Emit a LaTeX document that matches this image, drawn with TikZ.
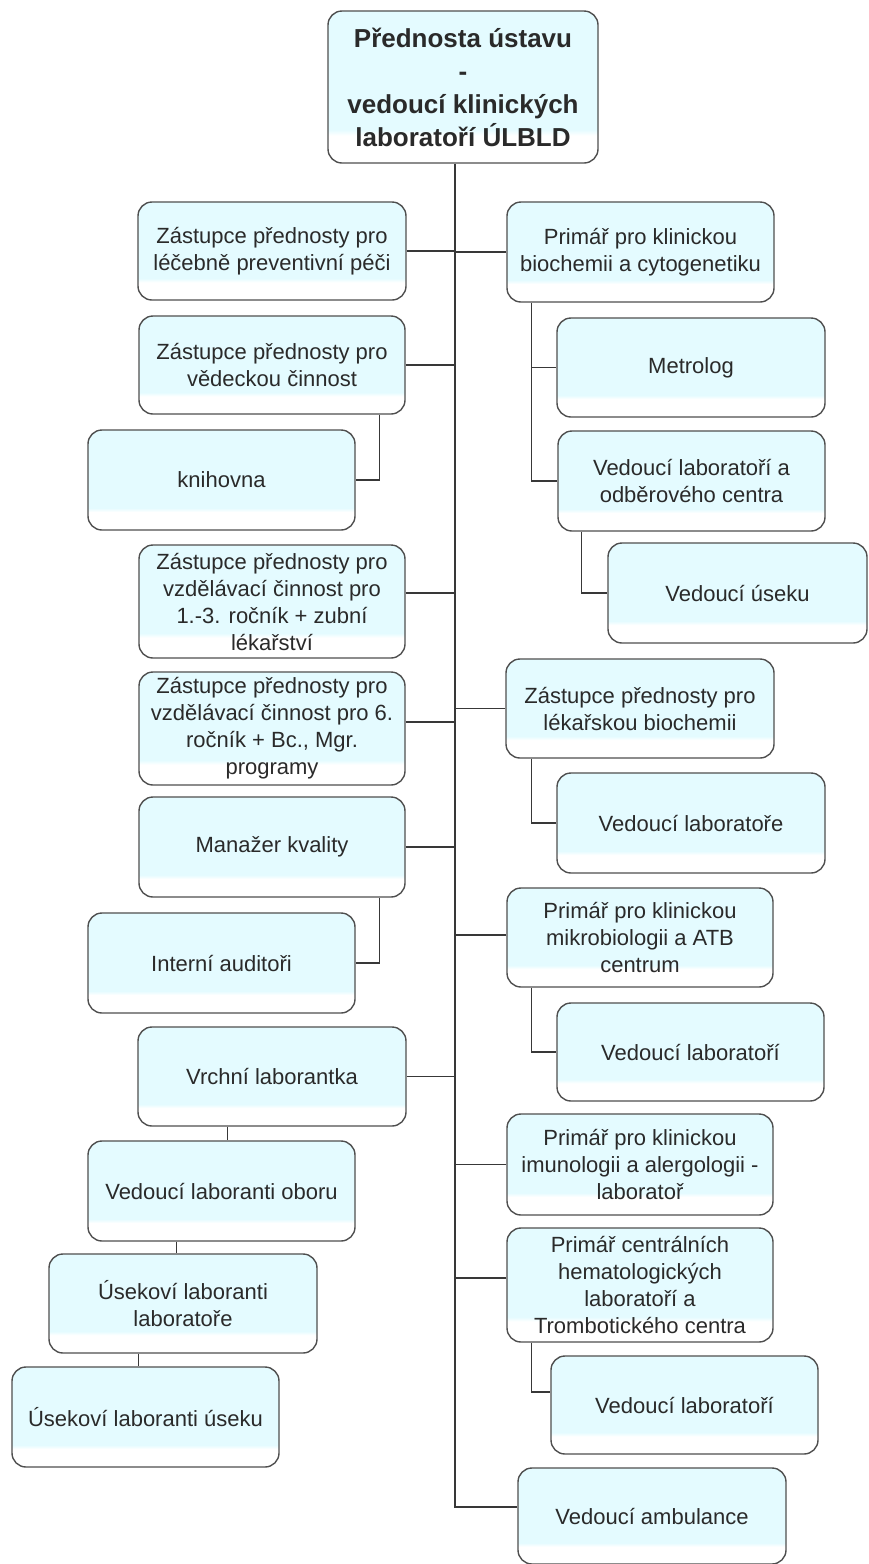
\documentclass[tikz,border=0pt]{standalone}
\usepackage{fontspec}
\setmainfont{Liberation Sans}
\definecolor{lc}{HTML}{E4FBFF}
\definecolor{bd}{HTML}{4F4F4F}
\definecolor{txt}{HTML}{2A2A2A}
\definecolor{ln}{HTML}{383838}
\pgfdeclareverticalshading{boxshade}{100bp}{color(0bp)=(white); color(25bp)=(white); color(34bp)=(white); color(36bp)=(lc); color(100bp)=(lc)}
\tikzset{
  box/.style={draw=bd, line width=1.4pt, rounded corners=14pt, shading=boxshade,
    align=center, inner sep=2pt, text=txt, font=\fontsize{22}{27}\selectfont},
  conn/.style={draw=ln, line width=1.3pt}
}
\begin{document}
\begin{tikzpicture}[x=1pt,y=-1pt]
\useasboundingbox (0,0) rectangle (869,1564);
% root
\node[box, minimum width=270pt, minimum height=152pt, font=\fontsize{26}{33}\selectfont\bfseries] (root) at (463,87) {Přednosta ústavu\\-\\vedoucí klinických\\laboratoří ÚLBLD};
% left column
\node[box, minimum width=268pt, minimum height=98pt] (L1) at (272,251) {Zástupce přednosty pro\\léčebně preventivní péči};
\node[box, minimum width=266pt, minimum height=98pt] (L2) at (272,365) {Zástupce přednosty pro\\vědeckou činnost};
\node[box, minimum width=267pt, minimum height=100pt] (L3) at (221.5,480) {knihovna};
\node[box, minimum width=266pt, minimum height=113pt] (L4) at (272,601.5) {Zástupce přednosty pro\\vzdělávací činnost pro\\1.-3. ročník + zubní\\lékařství};
\node[box, minimum width=266pt, minimum height=113pt] (L5) at (272,728.5) {Zástupce přednosty pro\\vzdělávací činnost pro 6.\\ročník + Bc., Mgr.\\programy};
\node[box, minimum width=266pt, minimum height=100pt] (L6) at (272,847) {Manažer kvality};
\node[box, minimum width=267pt, minimum height=100pt] (L7) at (221.5,963) {Interní auditoři};
\node[box, minimum width=268pt, minimum height=99pt] (L8) at (272,1076.5) {Vrchní laborantka};
\node[box, minimum width=267pt, minimum height=100pt] (L9) at (221.5,1191) {Vedoucí laboranti oboru};
\node[box, minimum width=268pt, minimum height=99pt] (L10) at (183,1303.5) {Úsekoví laboranti\\laboratoře};
\node[box, minimum width=267pt, minimum height=100pt] (L11) at (145.5,1417) {Úsekoví laboranti úseku};
% right column
\node[box, minimum width=267pt, minimum height=100pt] (R1) at (640.5,252) {Primář pro klinickou\\biochemii a cytogenetiku};
\node[box, minimum width=268pt, minimum height=99pt] (R2) at (691,367.5) {Metrolog};
\node[box, minimum width=267pt, minimum height=100pt] (R3) at (691.5,481) {Vedoucí laboratoří a\\odběrového centra};
\node[box, minimum width=259pt, minimum height=100pt] (R4) at (737.5,593) {Vedoucí úseku};
\node[box, minimum width=268pt, minimum height=99pt] (R5) at (640,708.5) {Zástupce přednosty pro\\lékařskou biochemii};
\node[box, minimum width=268pt, minimum height=100pt] (R6) at (691,823) {Vedoucí laboratoře};
\node[box, minimum width=266pt, minimum height=99pt] (R7) at (640,937.5) {Primář pro klinickou\\mikrobiologii a ATB\\centrum};
\node[box, minimum width=267pt, minimum height=98pt] (R8) at (690.5,1052) {Vedoucí laboratoří};
\node[box, minimum width=266pt, minimum height=101pt] (R9) at (640,1164.5) {Primář pro klinickou\\imunologii a alergologii -\\laboratoř};
\node[box, minimum width=266pt, minimum height=114pt] (R10) at (640,1285) {Primář centrálních\\hematologických\\laboratoří a\\Trombotického centra};
\node[box, minimum width=267pt, minimum height=98pt] (R11) at (684.5,1405) {Vedoucí laboratoří};
\node[box, minimum width=268pt, minimum height=96pt] (R12) at (652,1516) {Vedoucí ambulance};
% trunk
\coordinate (ttop) at ([xshift=-8pt]root.south);
\coordinate (r12c) at ([yshift=9pt]R12.west);
\draw[conn] (ttop) |- (r12c);
% left connectors
\draw[conn] (L1.east) -- (L1.east -| ttop);
\draw[conn] (L2.east) -- (L2.east -| ttop);
\coordinate (l4c) at ([yshift=8.5pt]L4.east);
\draw[conn] (l4c) -- (l4c -| ttop);
\coordinate (l5c) at ([yshift=6.5pt]L5.east);
\draw[conn] (l5c) -- (l5c -| ttop);
\draw[conn] (L6.east) -- (L6.east -| ttop);
\draw[conn] (L8.east) -- (L8.east -| ttop);
% right connectors
\draw[conn] (R1.west) -- (R1.west -| ttop);
\draw[conn] (R5.west) -- (R5.west -| ttop);
\coordinate (r7c) at ([yshift=2.5pt]R7.west);
\draw[conn] (r7c) -- (r7c -| ttop);
\draw[conn] (R9.west) -- (R9.west -| ttop);
\coordinate (r10c) at ([yshift=7pt]R10.west);
\draw[conn] (r10c) -- (r10c -| ttop);
% sub connectors left
\coordinate (l2d) at ([xshift=-26pt]L2.south east);
\draw[conn] (l2d) |- (L3.east);
\coordinate (l6d) at ([xshift=-26pt]L6.south east);
\draw[conn] (l6d) |- (L7.east);
\coordinate (l8d) at ([xshift=90pt]L8.south west);
\draw[conn] (l8d) -- (l8d |- L9.north);
\coordinate (l9d) at ([xshift=89pt]L9.south west);
\draw[conn] (l9d) -- (l9d |- L10.north);
\coordinate (l10d) at ([xshift=90pt]L10.south west);
\draw[conn] (l10d) -- (l10d |- L11.north);
% sub connectors right
\coordinate (r1d) at ([xshift=25pt]R1.south west);
\draw[conn] (r1d) |- (R3.west);
\draw[conn] (r1d |- R2.west) -- (R2.west);
\coordinate (r3d) at ([xshift=24pt]R3.south west);
\draw[conn] (r3d) |- (R4.west);
\coordinate (r5d) at ([xshift=26pt]R5.south west);
\draw[conn] (r5d) |- (R6.west);
\coordinate (r7d) at ([xshift=25pt]R7.south west);
\draw[conn] (r7d) |- (R8.west);
\coordinate (r10d) at ([xshift=25pt]R10.south west);
\coordinate (r11c) at ([yshift=13pt]R11.west);
\draw[conn] (r10d) |- (r11c);
\end{tikzpicture}
\end{document}
